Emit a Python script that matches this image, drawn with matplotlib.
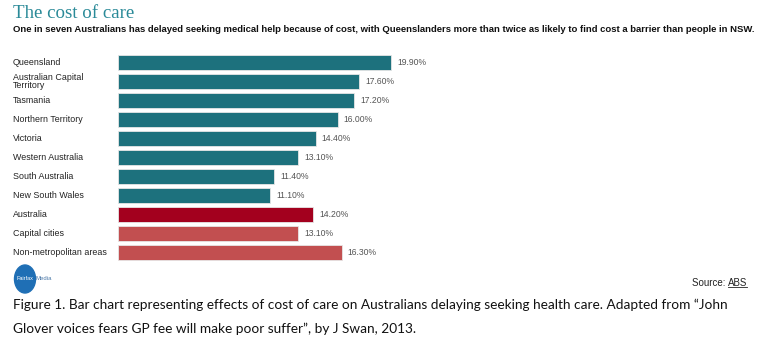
import matplotlib
matplotlib.use("Agg")
import matplotlib.pyplot as plt
from matplotlib.patches import Ellipse
from matplotlib.lines import Line2D

# data
regions = [
    "Queensland", "Australian Capital\nTerritory", "Tasmania", "Northern Territory",
    "Victoria", "Western Australia", "South Australia", "New South Wales",
    "Australia", "Capital cities", "Non-metropolitan areas",
]
pct = [19.9, 17.6, 17.2, 16.0, 14.4, 13.1, 11.4, 11.1, 14.2, 13.1, 16.3]
groups = ["state"] * 8 + ["national", "area", "area"]

COLORS = {"state": "#1d717d", "national": "#a3001e", "area": "#c24f50"}
NARROW = ["Liberation Sans Narrow", "Liberation Sans", "DejaVu Sans"]

W, H = 768, 359
fig = plt.figure(figsize=(W / 100, H / 100), dpi=100)
fig.patch.set_facecolor("white")

# axes: left edge 118px, 13.72 px per percent, rows 19px apart
ax_left, ax_top, ax_bottom = 118, 53, 262
xmax = 30
ax = fig.add_axes([ax_left / W, (H - ax_bottom) / H,
                   xmax * 13.72 / W, (ax_bottom - ax_top) / H])
ys = list(range(len(regions)))
bars = ax.barh(ys, pct, height=0.8, color=[COLORS[g] for g in groups],
               edgecolor="#e6e6e6", linewidth=0.6)
ax.set_ylim(len(regions) - 0.5, -0.5)
ax.set_xlim(0, xmax)
ax.axis("off")

for y, v in zip(ys, pct):
    ax.text(v + 0.45, y, f"{v:.2f}%", va="center", ha="left",
            fontsize=6.2, color="#555555", family=NARROW)

for y, lab in zip(ys, regions):
    yfig = 1 - (ax_top + (y + 0.5) * 19) / H
    fig.text(13 / W, yfig, lab, va="center", ha="left", fontsize=6.4,
             color="#222222", family=NARROW, linespacing=1.0)

fig.text(13 / W, 1 - 13 / H, "The cost of care", va="center", ha="left",
         fontsize=13.6, color="#2a8a98", family=["Liberation Serif", "DejaVu Serif"])
fig.text(13 / W, 1 - 30 / H,
         "One in seven Australians has delayed seeking medical help because of cost, "
         "with Queenslanders more than twice as likely to find cost a barrier than people in NSW.",
         va="center", ha="left", fontsize=6.8, fontweight="bold", color="#111111",
         family=NARROW)

# Fairfax Media logo
logo = fig.add_axes([12 / W, (H - 294) / H, 60 / W, 30 / H])
logo.set_xlim(0, 60)
logo.set_ylim(0, 30)
logo.axis("off")
logo.add_patch(Ellipse((13, 15), 21, 28, color="#1f6fb5"))
logo.text(13, 16, "Fairfax", color="white", fontsize=4, ha="center", va="center",
          family=NARROW)
logo.text(24, 16, "Media", color="#4a78a8", fontsize=4.3, ha="left", va="center",
          family=NARROW)

# source
src_abs = fig.text(747 / W, 1 - 283 / H, "ABS", ha="right", va="center",
                   fontsize=7, color="#222222", family=NARROW)
fig.canvas.draw()
bb = src_abs.get_window_extent()
fig.text(bb.x0 / W, 1 - 283 / H, "Source: ", ha="right", va="center",
         fontsize=7, color="#222222", family=NARROW)
fig.add_artist(Line2D([bb.x0 / W, bb.x1 / W], [(bb.y0 + 1) / H] * 2,
                      color="#222222", linewidth=0.6))

caption = [
    "Figure 1. Bar chart representing effects of cost of care on Australians delaying "
    "seeking health care. Adapted from \u201cJohn",
    "Glover voices fears GP fee will make poor suffer\u201d, by J Swan, 2013.",
]
for yc, line in zip([305, 329], caption):
    fig.text(13 / W, 1 - yc / H, line, ha="left", va="center", fontsize=9.8,
             color="#111111", family=["Lato", "DejaVu Sans"])

fig.savefig("out.png", dpi=100)
